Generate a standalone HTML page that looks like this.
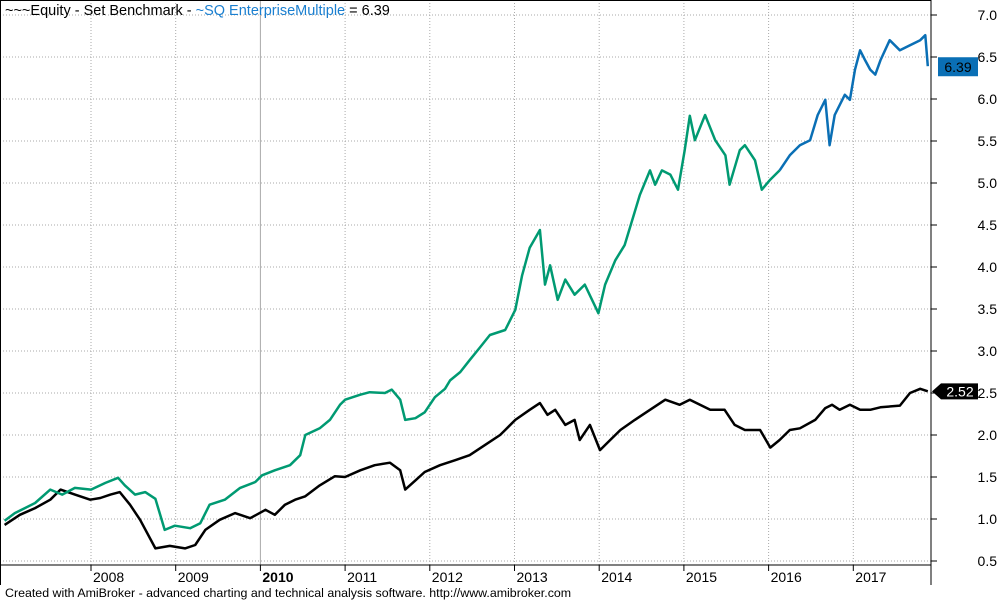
<!DOCTYPE html>
<html><head><meta charset="utf-8"><style>
body{margin:0;background:#fff;width:1000px;height:600px;overflow:hidden;font-family:"Liberation Sans",sans-serif}
svg{position:absolute;left:0;top:0}
</style></head><body>
<svg id="c" width="1000" height="600">
<rect x="0" y="0" width="1000" height="600" fill="#fff"/>
<g id="grid"></g>
<g id="series"></g>
<line x1="931" y1="0" x2="931" y2="585" stroke="#000"/>
<line x1="0" y1="565" x2="931" y2="565" stroke="#000"/>
<line x1="0.5" y1="0" x2="0.5" y2="585" stroke="#000"/>
<line x1="0" y1="0.5" x2="931" y2="0.5" stroke="#000"/>
<g id="axes"></g>
<text x="5" y="15" font-size="14.5"><tspan fill="#000">~~~Equity - Set Benchmark - </tspan><tspan fill="#1a7fd0">~SQ EnterpriseMultiple</tspan><tspan fill="#000"> = 6.39</tspan></text>
<text x="5" y="597" font-size="12.4" fill="#000">Created with AmiBroker - advanced charting and technical analysis software. http://www.amibroker.com</text>
</svg>
<script>
const yTicks=[0.5,1.0,1.5,2.0,2.5,3.0,3.5,4.0,4.5,5.0,5.5,6.0,6.5,7.0];
const years=[2008,2009,2010,2011,2012,2013,2014,2015,2016,2017];
const stratDates=[2006.98,2007.10,2007.22,2007.34,2007.52,2007.66,2007.81,2008.0,2008.17,2008.32,2008.40,2008.52,2008.64,2008.76,2008.87,2008.99,2009.17,2009.29,2009.40,2009.58,2009.76,2009.94,2010.02,2010.17,2010.35,2010.47,2010.53,2010.70,2010.82,2010.94,2011.00,2011.18,2011.29,2011.47,2011.55,2011.65,2011.71,2011.83,2011.94,2012.06,2012.18,2012.24,2012.36,2012.47,2012.59,2012.71,2012.89,2013.01,2013.09,2013.18,2013.30,2013.36,2013.42,2013.51,2013.60,2013.71,2013.83,2013.99,2014.07,2014.19,2014.30,2014.48,2014.60,2014.66,2014.74,2014.84,2014.93,2015.01,2015.07,2015.13,2015.25,2015.37,2015.49,2015.54,2015.66,2015.72,2015.84,2015.92,2016.02,2016.13,2016.25,2016.37,2016.49,2016.58,2016.67,2016.72,2016.78,2016.90,2016.96,2017.02,2017.08,2017.14,2017.20,2017.26,2017.32,2017.43,2017.55,2017.67,2017.79,2017.85,2017.88];
const stratValues=[0.98,1.07,1.13,1.19,1.35,1.29,1.37,1.35,1.43,1.49,1.40,1.29,1.32,1.24,0.87,0.92,0.89,0.95,1.17,1.23,1.37,1.44,1.52,1.58,1.64,1.76,2.0,2.08,2.18,2.36,2.42,2.48,2.51,2.50,2.54,2.42,2.18,2.20,2.27,2.45,2.55,2.65,2.75,2.89,3.04,3.19,3.25,3.49,3.90,4.23,4.44,3.79,4.02,3.61,3.85,3.67,3.79,3.45,3.79,4.08,4.26,4.86,5.15,4.98,5.15,5.10,4.92,5.39,5.80,5.51,5.81,5.51,5.33,4.98,5.39,5.45,5.27,4.92,5.04,5.15,5.33,5.45,5.51,5.81,5.99,5.45,5.81,6.05,5.99,6.35,6.58,6.46,6.35,6.29,6.46,6.70,6.58,6.64,6.70,6.76,6.39];
const blueStart=2016.13;
const benchDates=[2006.98,2007.16,2007.34,2007.52,2007.64,2007.81,2007.99,2008.11,2008.23,2008.34,2008.46,2008.58,2008.76,2008.93,2009.11,2009.23,2009.35,2009.52,2009.70,2009.88,2010.06,2010.17,2010.29,2010.41,2010.53,2010.70,2010.88,2011.00,2011.18,2011.35,2011.53,2011.65,2011.71,2011.83,2011.94,2012.12,2012.30,2012.47,2012.65,2012.83,2012.89,2013.01,2013.18,2013.30,2013.39,2013.48,2013.60,2013.71,2013.77,2013.89,2014.01,2014.13,2014.25,2014.42,2014.60,2014.78,2014.95,2015.07,2015.19,2015.31,2015.48,2015.60,2015.72,2015.90,2016.02,2016.13,2016.25,2016.37,2016.55,2016.67,2016.75,2016.84,2016.96,2017.08,2017.20,2017.32,2017.55,2017.67,2017.79,2017.88];
const benchValues=[0.93,1.05,1.13,1.23,1.35,1.29,1.23,1.25,1.29,1.32,1.17,0.99,0.65,0.68,0.65,0.69,0.87,0.99,1.07,1.01,1.11,1.05,1.17,1.23,1.27,1.40,1.51,1.50,1.58,1.64,1.67,1.58,1.35,1.46,1.56,1.64,1.70,1.76,1.88,2.00,2.06,2.18,2.30,2.38,2.24,2.30,2.12,2.18,1.94,2.12,1.82,1.94,2.06,2.18,2.30,2.42,2.36,2.42,2.36,2.30,2.30,2.12,2.06,2.06,1.85,1.94,2.06,2.08,2.18,2.32,2.36,2.30,2.36,2.30,2.30,2.33,2.35,2.50,2.55,2.52];

const NS='http://www.w3.org/2000/svg';
function X(t){return 91+(t-2008)*84.7;}
function Y(v){return 15+(7-v)*84;}
function mk(tag,attrs,parent){const e=document.createElementNS(NS,tag);for(const k in attrs)e.setAttribute(k,attrs[k]);parent.appendChild(e);return e;}
const grid=document.getElementById('grid'),axes=document.getElementById('axes'),ser=document.getElementById('series');
yTicks.forEach(v=>{
  const g=mk('line',{x1:0,x2:931,y1:Y(v),y2:Y(v),stroke:'#aaa','stroke-dasharray':'1,2'},grid);
  
  
  const tk=mk('line',{x1:931,x2:937,y1:Y(v),y2:Y(v),stroke:'#000'},axes);
  
  
  const t=mk('text',{x:997,y:Y(v)+5,'font-size':14,'text-anchor':'end',fill:'#000'},axes);
  t.textContent=v.toFixed(1);
  
  
});
years.forEach(yr=>{
  const x=X(yr);
  const g=mk('line',{x1:x,x2:x,y1:0,y2:565,stroke:'#aaa','stroke-dasharray':yr===2010?'none':'1,2'},grid);
  
  
  const tk=mk('line',{x1:x,x2:x,y1:565,y2:571,stroke:'#000'},axes);
  
  
  const t=mk('text',{x:x+2,y:582,'font-size':14,fill:'#000','font-weight':yr===2010?'bold':'normal'},axes);
  t.textContent=String(yr);
  
  
});
function pts(d,v,from,to){let s=[];for(let i=from;i<=to;i++)s.push(X(d[i]).toFixed(1)+','+Y(v[i]).toFixed(1));return s.join(' ');}
let bi=stratDates.findIndex(t=>t>=blueStart);if(bi<0)bi=stratDates.length-1;
const bench=mk('polyline',{points:pts(benchDates,benchValues,0,benchDates.length-1),fill:'none',stroke:'#000','stroke-width':2.5,'stroke-linejoin':'round'},ser);


const green=mk('polyline',{points:pts(stratDates,stratValues,0,bi),fill:'none',stroke:'#009a72','stroke-width':2.5,'stroke-linejoin':'round'},ser);


const blue=mk('polyline',{points:pts(stratDates,stratValues,bi,stratDates.length-1),fill:'none',stroke:'#0a6fb5','stroke-width':2.5,'stroke-linejoin':'round'},ser);


const sv=stratValues[stratValues.length-1],bv=benchValues[benchValues.length-1];
const r1=mk('rect',{x:938,y:Y(sv)-9,width:40,height:19,fill:'#0a6fb5'},axes);


const t1=mk('text',{x:958,y:Y(sv)+6,'font-size':14,'text-anchor':'middle',fill:'#000'},axes);
t1.textContent=sv.toFixed(2);


const yb=Y(bv);
const r2=mk('path',{d:`M932,${yb} L941,${yb-8} L978,${yb-8} L978,${yb+8} L941,${yb+8} Z`,fill:'#000'},axes);


const t2=mk('text',{x:960,y:yb+5,'font-size':14,'text-anchor':'middle',fill:'#fff'},axes);
t2.textContent=bv.toFixed(2);


</script>
</body></html>
